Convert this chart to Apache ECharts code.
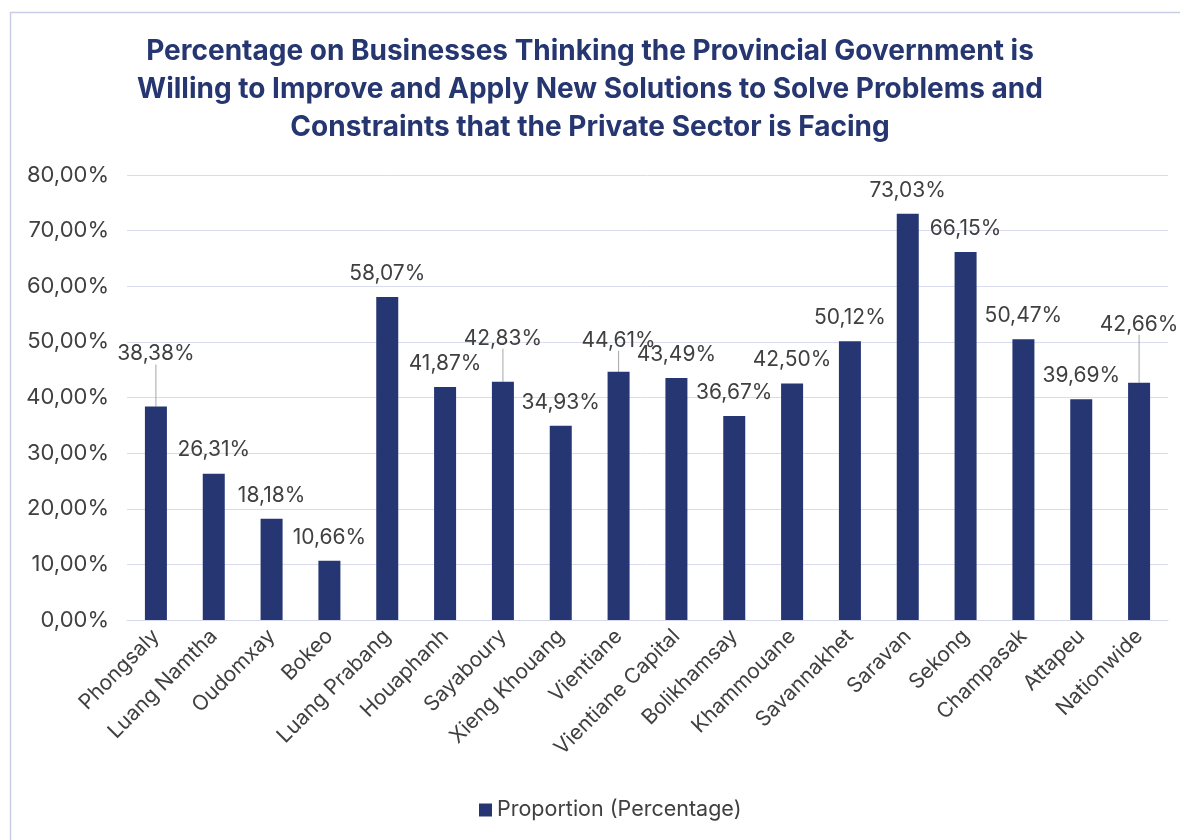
<!DOCTYPE html>
<html>
<head>
<meta charset="utf-8">
<style>
  html, body { margin: 0; padding: 0; background: #ffffff; }
  #chart { width: 1180px; height: 840px; }
</style>
<script src="https://cdn.jsdelivr.net/npm/echarts@6/dist/echarts.min.js"></script>
</head>
<body>
<div id="chart"></div>
<script>
const categories = ["Phongsaly", "Luang Namtha", "Oudomxay", "Bokeo", "Luang Prabang", "Houaphanh", "Sayaboury", "Xieng Khouang", "Vientiane", "Vientiane Capital", "Bolikhamsay", "Khammouane", "Savannakhet", "Saravan", "Sekong", "Champasak", "Attapeu", "Nationwide"];
const proportion = [38.38, 26.31, 18.18, 10.66, 58.07, 41.87, 42.83, 34.93, 44.61, 43.49, 36.67, 42.50, 50.12, 73.03, 66.15, 50.47, 39.69, 42.66];
const yTicks = [0, 10, 20, 30, 40, 50, 60, 70, 80];
const seriesName = "Proportion (Percentage)";
const titleText = "Percentage on Businesses Thinking the Provincial Government is\nWilling to Improve and Apply New Solutions to Solve Problems and\nConstraints that the Private Sector is Facing";

// label lifts (style only) for labels with leader lines
const labelLift = { 0: -29, 6: -20, 8: -8, 17: -35 };

const fmt = v => v.toFixed(2).replace('.', ',') + '%';
const font = "Inter, 'Noto Sans', sans-serif";

const barData = proportion.map((v, i) => ({
  value: v,
  labelLine: { show: labelLift[i] !== undefined }
}));

const chart = echarts.init(document.getElementById('chart'), null, { renderer: 'canvas' });
chart.setOption({
  backgroundColor: '#ffffff',
  animation: false,
  graphic: [{
    type: 'rect', left: 8, top: 10, z: -1,
    shape: { width: 1200, height: 900 },
    style: { fill: 'none', stroke: '#c9cce6', lineWidth: 1.5 }
  }],
  title: {
    text: titleText,
    left: 'center',
    top: 28,
    textStyle: { color: '#253670', fontFamily: font, fontWeight: 'bold', fontSize: 28, lineHeight: 38 }
  },
  legend: {
    bottom: 14,
    left: 474,
    itemWidth: 13, itemHeight: 13, icon: 'rect', itemGap: 6,
    textStyle: { color: '#404040', fontFamily: font, fontSize: 21.5 },
    data: [seriesName]
  },
  grid: { left: 127, right: 12, top: 175, bottom: 220, containLabel: false },
  xAxis: {
    type: 'category',
    data: categories,
    axisTick: { show: false },
    axisLine: { lineStyle: { color: '#d5d8ec', width: 1 } },
    axisLabel: { rotate: 45, interval: 0, color: '#404040', fontFamily: font, fontSize: 21, margin: 13 }
  },
  yAxis: {
    type: 'value',
    min: yTicks[0], max: yTicks[yTicks.length - 1], interval: 10,
    axisLine: { show: false },
    axisTick: { show: false },
    splitLine: { lineStyle: { color: '#d9dcef', width: 1 } },
    axisLabel: { color: '#404040', fontFamily: font, fontSize: 22, margin: 18, formatter: v => fmt(v) }
  },
  series: [{
    name: seriesName,
    type: 'bar',
    data: barData,
    barWidth: 22,
    itemStyle: { color: '#253673' },
    label: {
      show: true, position: 'top', distance: 13,
      color: '#404040', fontFamily: font, fontSize: 21,
      formatter: p => fmt(p.value)
    },
    labelLine: { lineStyle: { color: '#a6a6a6', width: 1 } },
    labelLayout: p => (labelLift[p.dataIndex] !== undefined ? { dy: labelLift[p.dataIndex] } : {})
  }]
});
</script>
</body>
</html>
